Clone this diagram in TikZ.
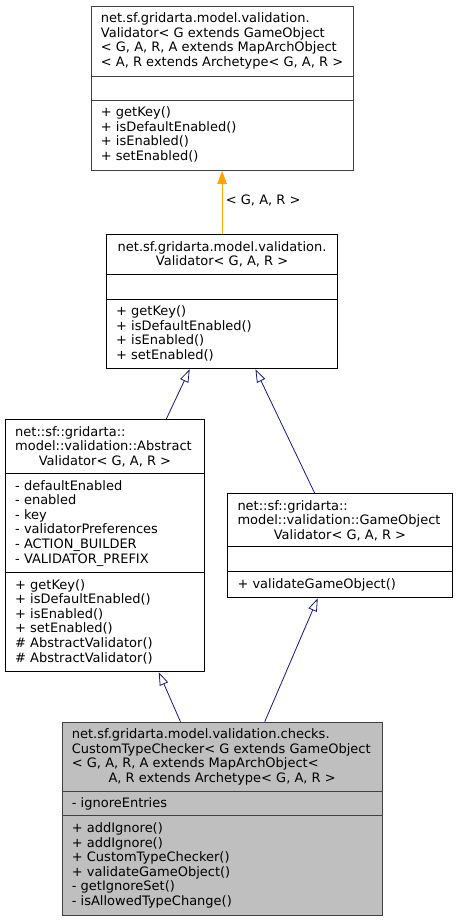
\documentclass[tikz,border=0pt]{standalone}
\usepackage{fontspec}
\setmainfont{DejaVu Sans}
\usetikzlibrary{arrows.meta}
\definecolor{edgeblue}{HTML}{191970}
\definecolor{tmplorange}{HTML}{FFA500}
\definecolor{curfill}{HTML}{BFBFBF}
\definecolor{darkborder}{HTML}{404040}
\newcommand\fs{\rule{0pt}{11.5pt}}
\begin{document}
\begin{tikzpicture}[x=1pt,y=-1pt,
  font=\fontsize{13}{14.6}\selectfont,
  umlbox/.style={draw=black, line width=0.9pt, fill=white, inner sep=0pt, anchor=north west},
  txt/.style={anchor=north west, inner sep=0pt, align=left},
  ctxt/.style={anchor=north, inner sep=0pt, align=center},
  inh/.style={draw=edgeblue, line width=0.8pt, -{Triangle[open,length=13pt,width=9pt]}},
  tmpl/.style={draw=tmplorange, line width=0.8pt, -{Triangle[length=13pt,width=9.5pt]}},
  sep/.style={line width=0.9pt}]
\fill[white] (0,0) rectangle (459,921);
\useasboundingbox (0,0) rectangle (459,921);

% Box A
\node[umlbox, draw=darkborder, minimum width=262.6pt, minimum height=164.3pt] (A) at (90.7,5.7) {};
\draw[sep, darkborder] ([yshift=-70.3pt]A.north west) -- ([yshift=-70.3pt]A.north east);
\draw[sep, darkborder] ([yshift=-94.3pt]A.north west) -- ([yshift=-94.3pt]A.north east);
\node[txt] (At) at ([xshift=10pt,yshift=-5pt]A.north west) {\fs net.sf.gridarta.model.validation.\\Validator< G extends GameObject\\< G, A, R, A extends MapArchObject\\< A, R extends Archetype< G, A, R >};
\node[txt] (Am) at ([xshift=10pt,yshift=-99.3pt]A.north west) {\fs + getKey()\\+ isDefaultEnabled()\\+ isEnabled()\\+ setEnabled()};

% Box B
\node[umlbox, minimum width=231.3pt, minimum height=134pt] (B) at (106,234.3) {};
\draw[sep] ([yshift=-39.7pt]B.north west) -- ([yshift=-39.7pt]B.north east);
\draw[sep] ([yshift=-64.7pt]B.north west) -- ([yshift=-64.7pt]B.north east);
\node[ctxt] (Bt) at ([yshift=-5pt]B.north) {\fs net.sf.gridarta.model.validation.\\Validator< G, A, R >};
\node[txt] (Bm) at ([xshift=10pt,yshift=-69.7pt]B.north west) {\fs + getKey()\\+ isDefaultEnabled()\\+ isEnabled()\\+ setEnabled()};

% Box C
\node[umlbox, minimum width=199pt, minimum height=252pt] (C) at (5,419.3) {};
\draw[sep] ([yshift=-54pt]C.north west) -- ([yshift=-54pt]C.north east);
\draw[sep] ([yshift=-153pt]C.north west) -- ([yshift=-153pt]C.north east);
\node[txt] (Ct) at ([xshift=10pt,yshift=-5pt]C.north west) {\fs net::sf::gridarta::\\model::validation::Abstract};
\node[ctxt] (Ct2) at ([yshift=-34.2pt]C.north) {\fs Validator< G, A, R >};
\node[txt] (Ca) at ([xshift=10pt,yshift=-59pt]C.north west) {\fs - defaultEnabled\\- enabled\\- key\\- validatorPreferences\\- ACTION\_BUILDER\\- VALIDATOR\_PREFIX};
\node[txt] (Cm) at ([xshift=10pt,yshift=-158pt]C.north west) {\fs + getKey()\\+ isDefaultEnabled()\\+ isEnabled()\\+ setEnabled()\\\# AbstractValidator()\\\# AbstractValidator()};

% Box D
\node[umlbox, minimum width=224.4pt, minimum height=104pt] (D) at (227.3,493.3) {};
\draw[sep] ([yshift=-52.7pt]D.north west) -- ([yshift=-52.7pt]D.north east);
\draw[sep] ([yshift=-78.4pt]D.north west) -- ([yshift=-78.4pt]D.north east);
\node[txt] (Dt) at ([xshift=10pt,yshift=-5pt]D.north west) {\fs net::sf::gridarta::\\model::validation::GameObject};
\node[ctxt] (Dt2) at ([yshift=-34.2pt]D.north) {\fs Validator< G, A, R >};
\node[txt] (Dm) at ([xshift=10pt,yshift=-83.4pt]D.north west) {\fs + validateGameObject()};

% Box E
\node[umlbox, draw=darkborder, fill=curfill, minimum width=320pt, minimum height=193.3pt] (E) at (61.7,721.7) {};
\draw[sep, darkborder] ([yshift=-69.3pt]E.north west) -- ([yshift=-69.3pt]E.north east);
\draw[sep, darkborder] ([yshift=-94pt]E.north west) -- ([yshift=-94pt]E.north east);
\node[txt] (Et) at ([xshift=10pt,yshift=-5pt]E.north west) {\fs net.sf.gridarta.model.validation.checks.\\CustomTypeChecker< G extends GameObject\\< G, A, R, A extends MapArchObject<};
\node[ctxt] (Et2) at ([yshift=-48.8pt]E.north) {\fs A, R extends Archetype< G, A, R >};
\node[txt] (Ea) at ([xshift=10pt,yshift=-74.3pt]E.north west) {\fs - ignoreEntries};
\node[txt] (Em) at ([xshift=10pt,yshift=-99pt]E.north west) {\fs + addIgnore()\\+ addIgnore()\\+ CustomTypeChecker()\\+ validateGameObject()\\- getIgnoreSet()\\- isAllowedTypeChange()};

% Edges
\draw[tmpl] (B.north) -- (B.north |- A.south);
\node[anchor=base west, inner sep=0pt] (lab) at (225.7,204) {< G, A, R >};
\draw[inh] ([xshift=61.2pt]C.north) -- ([xshift=-32.35pt]B.south);
\draw[inh] ([xshift=-25.2pt]D.north) -- ([xshift=33.35pt]B.south);
\draw[inh] ([xshift=-41.7pt]E.north) -- ([xshift=53.8pt]C.south);
\draw[inh] ([xshift=42.6pt]E.north) -- ([xshift=-22.2pt]D.south);
\end{tikzpicture}
\end{document}
